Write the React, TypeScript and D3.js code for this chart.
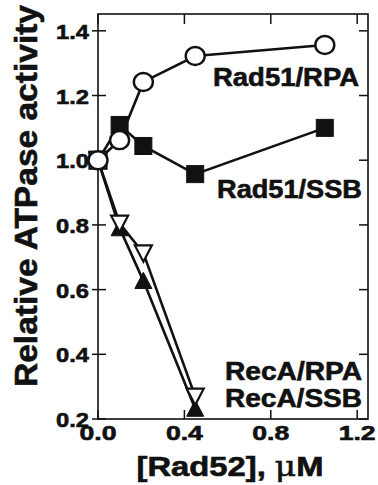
import React from "react";
import * as d3 from "d3";

const xTicks = [0.0, 0.4, 0.8, 1.2];
const yTicks = [0.2, 0.4, 0.6, 0.8, 1.0, 1.2, 1.4];

const rad51RpaX = [0, 0.1, 0.21, 0.45, 1.05];
const rad51RpaY = [1.0, 1.062, 1.242, 1.322, 1.356];

const rad51SsbX = [0, 0.1, 0.21, 0.45, 1.05];
const rad51SsbY = [1.0, 1.109, 1.044, 0.957, 1.1];

const recARpaX = [0, 0.1, 0.21, 0.45];
const recARpaY = [1.0, 0.805, 0.713, 0.27];

const recASsbX = [0, 0.1, 0.21, 0.45];
const recASsbY = [1.0, 0.79, 0.627, 0.232];

const labels = ["Rad51/RPA", "Rad51/SSB", "RecA/RPA", "RecA/SSB"];

const W = 378;
const H = 485;
const L = 98, R = 368, T = 14, B = 419;
const FONT = "'Liberation Sans', Arial, Helvetica, sans-serif";
const INK = "#111";

export default function App() {
  const x = d3.scaleLinear().domain([0, 1.25]).range([L, R]);
  const y = d3.scaleLinear().domain([0.2, 1.452]).range([B, T]);
  const line = d3.line<[number, number]>().x((d) => x(d[0])).y((d) => y(d[1]));
  const zip = (xs: number[], ys: number[]) => xs.map((v, i) => [v, ys[i]] as [number, number]);

  const sRpa = zip(rad51RpaX, rad51RpaY);
  const sSsb = zip(rad51SsbX, rad51SsbY);
  const rRpa = zip(recARpaX, recARpaY);
  const rSsb = zip(recASsbX, recASsbY);

  const tri = (cx: number, cy: number, s: number, up: boolean) => {
    const h = s * 0.9;
    if (up) return `M${cx},${cy - h / 2 - 1} L${cx + s / 2},${cy + h / 2} L${cx - s / 2},${cy + h / 2} Z`;
    return `M${cx},${cy + h / 2 + 1} L${cx + s / 2},${cy - h / 2} L${cx - s / 2},${cy - h / 2} Z`;
  };

  const boldText = { fontWeight: "bold" as const, fill: INK, stroke: INK, strokeWidth: 0.6 };

  return (
    <div style={{ position: "absolute", left: 0, top: 0, width: W, height: H, background: "#fff" }}>
      <svg width={W} height={H} style={{ display: "block" }} fontFamily={FONT}>
        <rect x={0} y={0} width={W} height={H} fill="#fff" />
        {/* frame */}
        <rect x={L} y={T} width={R - L} height={B - T} fill="none" stroke={INK} strokeWidth={1.6} />
        {/* ticks */}
        {xTicks.map((t) => (
          <g key={"xt" + t}>
            <line x1={x(t)} x2={x(t)} y1={B} y2={B - 9} stroke={INK} strokeWidth={1.5} />
            <line x1={x(t)} x2={x(t)} y1={T} y2={T + 10} stroke={INK} strokeWidth={1.5} />
            <text x={x(t)} y={440} textAnchor="middle" fontSize={20} {...boldText}
              textLength={37} lengthAdjust="spacingAndGlyphs">{t.toFixed(1)}</text>
          </g>
        ))}
        {yTicks.map((t) => (
          <g key={"yt" + t}>
            <line x1={L - 6} x2={L + 8} y1={y(t)} y2={y(t)} stroke={INK} strokeWidth={1.5} />
            <line x1={R} x2={R - 9} y1={y(t)} y2={y(t)} stroke={INK} strokeWidth={1.5} />
            <text x={89} y={y(t) + 8} textAnchor="end" fontSize={21} {...boldText}
              textLength={33} lengthAdjust="spacingAndGlyphs">{t.toFixed(1)}</text>
          </g>
        ))}

        {/* lines */}
        <path d={line(rSsb) || ""} fill="none" stroke={INK} strokeWidth={2.6} />
        <path d={line(rRpa) || ""} fill="none" stroke={INK} strokeWidth={2.6} />
        <path d={line(sSsb) || ""} fill="none" stroke={INK} strokeWidth={2.6} />
        <path d={line(sRpa) || ""} fill="none" stroke={INK} strokeWidth={2.6} />

        {/* markers */}
        {rSsb.map((d, i) => (
          <path key={"rs" + i} d={tri(x(d[0]), y(d[1]), 17, true)} fill={INK} stroke={INK} strokeWidth={1} />
        ))}
        {rRpa.map((d, i) => (
          <path key={"rr" + i} d={tri(x(d[0]), y(d[1]), 17, false)} fill="#fff" stroke={INK} strokeWidth={2.2} />
        ))}
        {sSsb.map((d, i) => (
          <rect key={"ss" + i} x={x(d[0]) - 8.5} y={y(d[1]) - 8.5} width={17} height={17}
            fill={i === 0 ? "#fff" : INK} stroke={INK} strokeWidth={i === 0 ? 2.2 : 1} />
        ))}
        {sRpa.map((d, i) => (
          <ellipse key={"sr" + i} cx={x(d[0])} cy={y(d[1])} rx={9.5} ry={9} fill="#fff" stroke={INK} strokeWidth={2.4} />
        ))}

        {/* series labels */}
        <text x={359} y={86} textAnchor="end" fontSize={25} {...boldText}
          textLength={146} lengthAdjust="spacingAndGlyphs">{labels[0]}</text>
        <text x={362} y={198} textAnchor="end" fontSize={25} {...boldText}
          textLength={145} lengthAdjust="spacingAndGlyphs">{labels[1]}</text>
        <text x={362} y={380} textAnchor="end" fontSize={25} {...boldText}
          textLength={137} lengthAdjust="spacingAndGlyphs">{labels[2]}</text>
        <text x={362} y={407} textAnchor="end" fontSize={25} {...boldText}
          textLength={137} lengthAdjust="spacingAndGlyphs">{labels[3]}</text>

        {/* axis titles */}
        <text transform={`translate(37,196) rotate(-90)`} textAnchor="middle" fontSize={32} {...boldText}
          textLength={382} lengthAdjust="spacingAndGlyphs">Relative ATPase activity</text>
        <text x={230} y={476} textAnchor="middle" fontSize={27} {...boldText}
          textLength={187} lengthAdjust="spacingAndGlyphs">[Rad52], <tspan fontWeight="normal" fontFamily="'DejaVu Serif', serif">μ</tspan>M</text>
      </svg>
    </div>
  );
}
